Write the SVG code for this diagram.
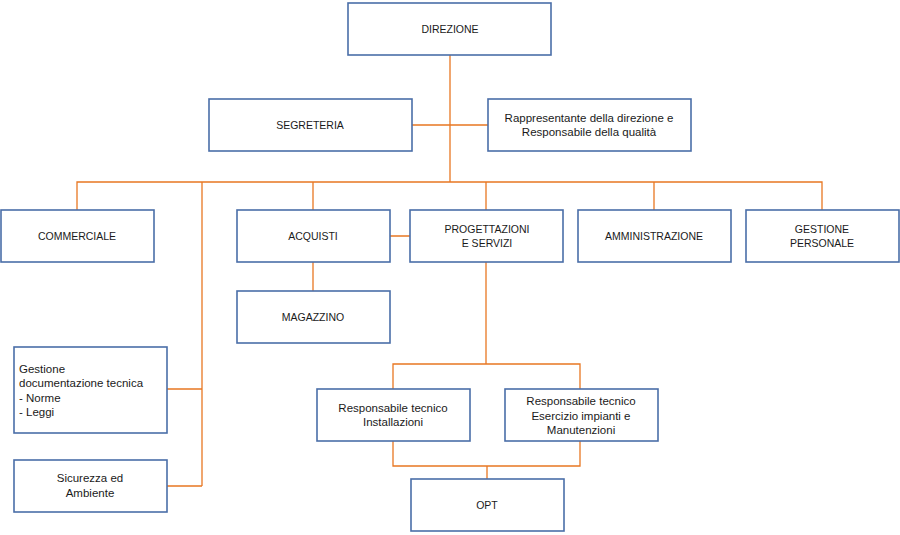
<svg xmlns="http://www.w3.org/2000/svg" width="900" height="535" viewBox="0 0 900 535">
<style>
.b{fill:#fff;stroke:#4a6ea8;stroke-width:1.6}
.t{font-family:"Liberation Sans",Arial,sans-serif;font-size:10.5px;fill:#1a1a1a;text-anchor:middle}
.m{font-size:11.5px}
.l{text-anchor:start}
.c{fill:none;stroke:#e87722;stroke-width:1.3}
</style>
<rect width="900" height="535" fill="#fff"/>
<g id="connectors">
<path class="c" d="M450 55V182M412 125H488M77 210V182H822V210M202 182V486M313 182V210M486 182V210M654 182V210M390 236H410M313 262V291M486 262V364M393 389V364H580V389M393 441V466H580V441M487 466V479M167 389H202M167 486H202"/>
</g>
<g id="direzione"><rect class="b" x="348" y="3" width="203" height="52"/><text class="t" x="450" y="33">DIREZIONE</text></g>
<g id="segreteria"><rect class="b" x="209" y="99" width="203" height="52"/><text class="t" x="310" y="129">SEGRETERIA</text></g>
<g id="rappresentante"><rect class="b" x="488" y="99" width="203" height="52"/><text class="t m" x="589" y="122">Rappresentante della direzione e</text><text class="t m" x="589" y="136">Responsabile della qualità</text></g>
<g id="commerciale"><rect class="b" x="1" y="210" width="153" height="52"/><text class="t" x="77" y="240">COMMERCIALE</text></g>
<g id="acquisti"><rect class="b" x="237" y="210" width="153" height="52"/><text class="t" x="313" y="240">ACQUISTI</text></g>
<g id="progettazioni"><rect class="b" x="410" y="210" width="153" height="52"/><text class="t" x="487" y="233">PROGETTAZIONI</text><text class="t" x="487" y="247">E SERVIZI</text></g>
<g id="amministrazione"><rect class="b" x="578" y="210" width="153" height="52"/><text class="t" x="654" y="240">AMMINISTRAZIONE</text></g>
<g id="gestione-personale"><rect class="b" x="746" y="210" width="153" height="52"/><text class="t" x="822" y="233">GESTIONE</text><text class="t" x="822" y="247">PERSONALE</text></g>
<g id="magazzino"><rect class="b" x="237" y="291" width="153" height="52"/><text class="t" x="313" y="321">MAGAZZINO</text></g>
<g id="gestione-doc"><rect class="b" x="14" y="347" width="153" height="86"/><text class="t m l" x="19" y="373">Gestione</text><text class="t m l" x="19" y="387">documentazione tecnica</text><text class="t m l" x="19" y="402">- Norme</text><text class="t m l" x="19" y="416">- Leggi</text></g>
<g id="sicurezza"><rect class="b" x="14" y="460" width="153" height="52"/><text class="t m" x="90" y="482">Sicurezza ed</text><text class="t m" x="90" y="497">Ambiente</text></g>
<g id="resp-installazioni"><rect class="b" x="317" y="389" width="153" height="52"/><text class="t m" x="393" y="412">Responsabile tecnico</text><text class="t m" x="393" y="426">Installazioni</text></g>
<g id="resp-esercizio"><rect class="b" x="505" y="389" width="153" height="52"/><text class="t m" x="581" y="405">Responsabile tecnico</text><text class="t m" x="581" y="420">Esercizio impianti e</text><text class="t m" x="581" y="434">Manutenzioni</text></g>
<g id="opt"><rect class="b" x="411" y="479" width="153" height="52"/><text class="t" x="487" y="509">OPT</text></g>
</svg>
